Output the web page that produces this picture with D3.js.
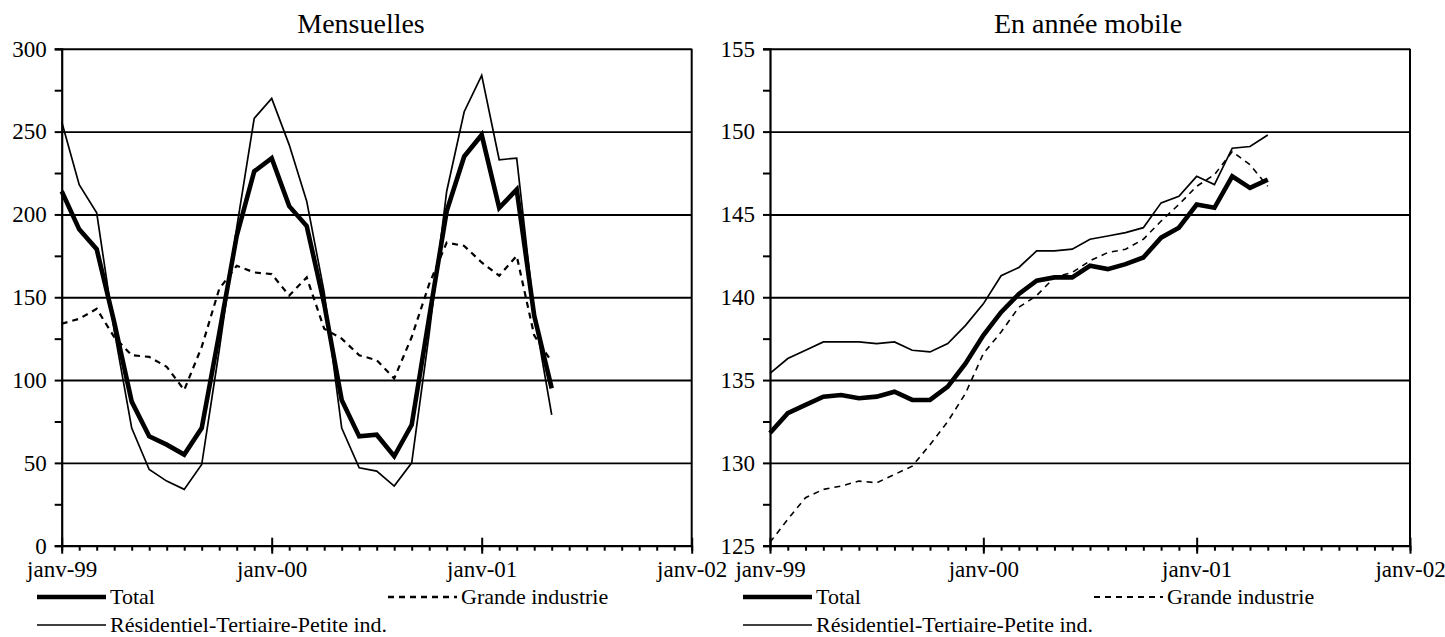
<!DOCTYPE html>
<html>
<head>
<meta charset="utf-8">
<script src="https://cdn.jsdelivr.net/npm/d3@7"></script>
<style>
  html, body { margin: 0; padding: 0; background: #fff; }
  svg { display: block; }
  text { font-family: "Liberation Serif", "Times New Roman", serif; fill: #000; }
</style>
</head>
<body>
<svg id="chart" width="1445" height="637"></svg>
<script>
// Month names used to build the category axis (janv-99 .. janv-02)
const monthNames = ["janv", "févr", "mars", "avr", "mai", "juin", "juil", "août", "sept", "oct", "nov", "déc"];
const years = ["99", "00", "01", "02"];

// Monthly consumption (left panel)
const totalMonthly  = [214, 191, 179, 135, 87, 66, 61, 55, 71, 128, 187, 226, 234, 205, 193, 146, 88, 66, 67, 54, 73, 138, 202, 235, 248, 204, 215, 139, 95];
const residMonthly  = [256, 218, 201, 130, 71, 46, 39, 34, 49, 118, 192, 258, 270, 242, 208, 153, 71, 47, 45, 36, 50, 128, 214, 262, 284, 233, 234, 140, 79];
const grandeMonthly = [134, 137, 143, 126, 115, 114, 108, 94, 120, 155, 169, 165, 164, 151, 162, 131, 125, 115, 112, 101, 126, 158, 183, 181, 171, 163, 175, 127, 111];

// Rolling-year consumption (right panel)
const totalRolling  = [131.8, 133.0, 133.5, 134.0, 134.1, 133.9, 134.0, 134.3, 133.8, 133.8, 134.6, 136.0, 137.7, 139.1, 140.2, 141.0, 141.2, 141.2, 141.9, 141.7, 142.0, 142.4, 143.6, 144.2, 145.6, 145.4, 147.3, 146.6, 147.1];
const residRolling  = [135.4, 136.3, 136.8, 137.3, 137.3, 137.3, 137.2, 137.3, 136.8, 136.7, 137.2, 138.3, 139.6, 141.3, 141.8, 142.8, 142.8, 142.9, 143.5, 143.7, 143.9, 144.2, 145.7, 146.1, 147.3, 146.8, 149.0, 149.1, 149.8];
const grandeRolling = [125.2, 126.6, 127.9, 128.4, 128.6, 128.9, 128.8, 129.3, 129.8, 131.1, 132.5, 134.2, 136.6, 137.9, 139.4, 140.1, 141.2, 141.5, 142.2, 142.7, 142.9, 143.5, 144.6, 145.6, 146.7, 147.4, 148.8, 148.0, 146.7];

// Axis settings
const leftTicks  = [0, 50, 100, 150, 200, 250, 300];
const rightTicks = [125, 130, 135, 140, 145, 150, 155];

const seriesNames = ["Total", "Grande industrie", "Résidentiel-Tertiaire-Petite ind."];

// Category list: every month from janv-99 through janv-02
const months = [];
years.forEach((y, yi) => {
  monthNames.forEach(m => {
    if (yi < years.length - 1 || m === "janv") months.push(m + "-" + y);
  });
});

const svg = d3.select("#chart");

function panel(opts) {
  const { x0, x1, y0, y1, domain, ticks, minorStep, title, titleX, total, grande, resid, dashWidth, dashPattern, legendX } = opts;

  const x = d3.scalePoint().domain(months).range([x0, x1]);
  const y = d3.scaleLinear().domain(domain).range([y1, y0]);
  const g = svg.append("g");

  // Horizontal gridlines
  g.append("g")
    .attr("transform", `translate(${x0},0)`)
    .call(d3.axisLeft(y).tickValues(ticks.slice(1)).tickSize(-(x1 - x0)).tickFormat(""))
    .call(s => s.select(".domain").remove())
    .call(s => s.selectAll(".tick line").attr("stroke", "#000").attr("stroke-width", 1.9));

  // Right border
  g.append("line")
    .attr("x1", x1).attr("x2", x1).attr("y1", y(domain[1])).attr("y2", y(domain[0]))
    .attr("stroke", "#000").attr("stroke-width", 2);

  // Y axis with minor ticks between the labelled values
  const allY = d3.range(domain[0], domain[1] + minorStep / 2, minorStep);
  g.append("g")
    .attr("transform", `translate(${x0},0)`)
    .call(d3.axisLeft(y).tickValues(allY).tickSize(7).tickPadding(8)
      .tickFormat(d => ticks.includes(+d.toFixed(3)) ? d : ""))
    .call(s => s.select(".domain").attr("stroke-width", 2.2))
    .call(s => s.selectAll(".tick line").attr("stroke-width", 2))
    .call(s => s.selectAll(".tick text").style("font-size", "23px"));

  // X axis: monthly ticks below
  g.append("g")
    .attr("transform", `translate(0,${y1})`)
    .call(d3.axisBottom(x).tickValues(months).tickSize(5).tickFormat("").tickSizeOuter(0))
    .call(s => s.select(".domain").attr("stroke-width", 2.2))
    .call(s => s.selectAll(".tick line").attr("stroke-width", 2));

  // X axis: yearly ticks crossing the axis, with labels
  const janv = months.filter(m => m.startsWith("janv"));
  g.append("g")
    .attr("transform", `translate(0,${y1})`)
    .call(d3.axisBottom(x).tickValues(janv).tickSize(8).tickPadding(7))
    .call(s => s.select(".domain").remove())
    .call(s => s.selectAll(".tick line").attr("y1", -8).attr("stroke-width", 2))
    .call(s => s.selectAll(".tick text").style("font-size", "23px"));

  // Panel title
  g.append("text")
    .attr("x", titleX).attr("y", 33)
    .attr("text-anchor", "middle")
    .style("font-size", "28px")
    .text(title);

  const line = d3.line().x((d, i) => x(months[i])).y(d => y(d));

  g.append("path").datum(grande).attr("d", line)
    .attr("fill", "none").attr("stroke", "#000").attr("stroke-width", dashWidth)
    .attr("stroke-dasharray", dashPattern);
  g.append("path").datum(resid).attr("d", line)
    .attr("fill", "none").attr("stroke", "#000").attr("stroke-width", 1.7)
    .attr("stroke-linejoin", "miter");
  g.append("path").datum(total).attr("d", line)
    .attr("fill", "none").attr("stroke", "#000").attr("stroke-width", 4.6)
    .attr("stroke-linejoin", "miter");

  // Legend
  const lg = g.append("g").attr("transform", `translate(${legendX},0)`);
  const items = [
    { name: seriesNames[0], dx: 0,   dy: 597, w: 4.6, dash: null },
    { name: seriesNames[1], dx: 351, dy: 597, w: dashWidth + 0.4, dash: dashPattern },
    { name: seriesNames[2], dx: 0,   dy: 625, w: 1.7, dash: null }
  ];
  items.forEach(it => {
    lg.append("line")
      .attr("x1", it.dx).attr("x2", it.dx + 69)
      .attr("y1", it.dy).attr("y2", it.dy)
      .attr("stroke", "#000").attr("stroke-width", it.w)
      .attr("stroke-dasharray", it.dash);
    lg.append("text")
      .attr("x", it.dx + 73).attr("y", it.dy + 7)
      .style("font-size", "22px")
      .text(it.name);
  });
}

panel({
  x0: 61.7, x1: 691.7, y0: 48.8, y1: 545.7,
  domain: [0, 300], ticks: leftTicks, minorStep: 25,
  title: "Mensuelles", titleX: 361,
  total: totalMonthly, grande: grandeMonthly, resid: residMonthly,
  dashWidth: 2.2, dashPattern: "6,5", legendX: 37
});

panel({
  x0: 770, x1: 1410, y0: 48.8, y1: 545.7,
  domain: [125, 155], ticks: rightTicks, minorStep: 2.5,
  title: "En année mobile", titleX: 1088,
  total: totalRolling, grande: grandeRolling, resid: residRolling,
  dashWidth: 1.6, dashPattern: "6,5", legendX: 743
});
</script>
</body>
</html>
